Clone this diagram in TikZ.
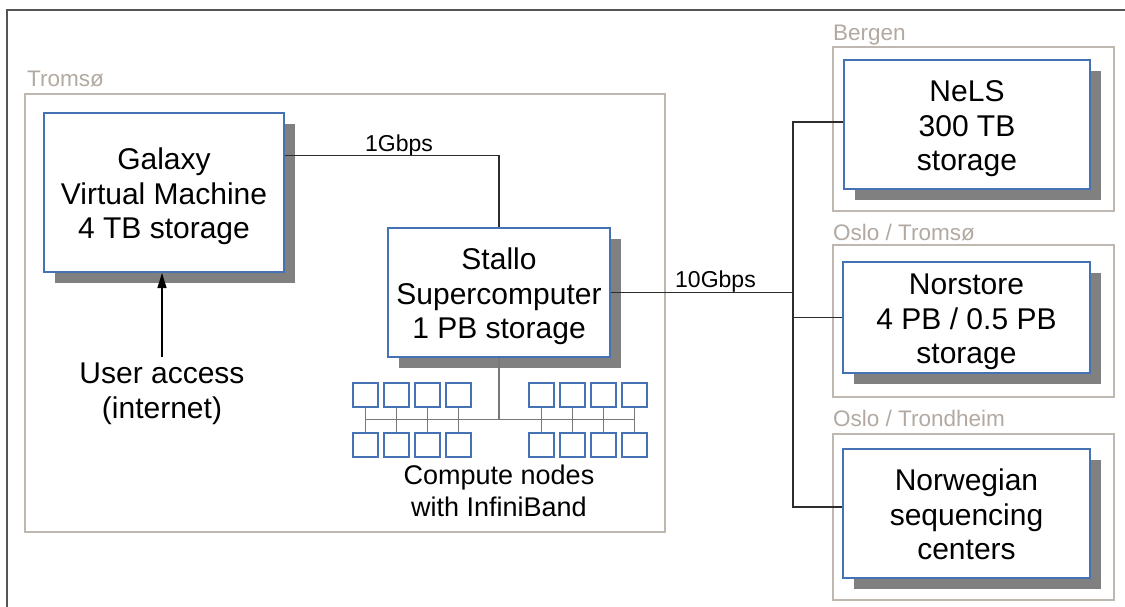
\documentclass[tikz,border=0pt]{standalone}
\usepackage{fontspec}
\setmainfont{Liberation Sans}
\usetikzlibrary{shadows,arrows.meta,calc}
\definecolor{boxblue}{RGB}{68,114,180}
\definecolor{shadowgray}{RGB}{128,128,128}
\definecolor{framegray}{RGB}{190,184,177}
\definecolor{labelgray}{RGB}{178,170,162}
\definecolor{linegray}{RGB}{45,45,45}
\definecolor{netgray}{RGB}{120,120,120}
\definecolor{outergray}{RGB}{85,85,85}
\begin{document}
\begin{tikzpicture}[x=1pt,y=-1pt,
  mainbox/.style={draw=boxblue, line width=2pt, fill=white, align=center,
    font=\fontsize{30}{34.5}\selectfont, inner sep=0pt,
    text height=100pt, text depth=8pt,
    drop shadow={shadow xshift=11pt, shadow yshift=-11pt, fill=shadowgray, opacity=1}},
  site/.style={draw=framegray, line width=2.5pt},
  sitelabel/.style={text=labelgray, font=\fontsize{22.5}{26}\selectfont, anchor=base west, inner sep=0pt},
  conn/.style={draw=linegray, line width=1.3pt},
  speed/.style={font=\fontsize{23}{26}\selectfont, anchor=base west, inner sep=0pt},
  cnode/.style={draw=boxblue, line width=2pt, fill=white, minimum width=25pt, minimum height=24pt, inner sep=0pt},
  net/.style={draw=netgray, line width=1.2pt},
  plain/.style={align=center, font=\fontsize{30}{34.5}\selectfont, inner sep=0pt},
]
\useasboundingbox (0,0) rectangle (1125,606);
\fill[white] (0,0) rectangle (1125,606);
% outer frame
\draw[draw=outergray, line width=1.5pt] (7,610) -- (7,10) -- (1130,10);
% site frames
\draw[site] (25,94) rectangle (665,532);
\draw[site] (833,47) rectangle (1114,211);
\draw[site] (833,245) rectangle (1114,397);
\draw[site] (833,434) rectangle (1114,600);
\node[sitelabel] (ltromso) at (27,86) {Tromsø};
\node[sitelabel] (lbergen) at (833,40) {Bergen};
\node[sitelabel] (loslotr) at (833,240) {Oslo / Tromsø};
\node[sitelabel] (loslotd) at (833,426) {Oslo / Trondheim};
% main boxes
\node[mainbox, minimum width=240pt, minimum height=159pt] (galaxy) at (164,192.5) {Galaxy\\Virtual Machine\\4 TB storage};
\node[mainbox, minimum width=222pt, minimum height=129pt] (stallo) at (499,292.5) {Stallo\\Supercomputer\\1 PB storage};
\node[mainbox, minimum width=246pt, minimum height=129pt] (nels) at (967,124.5) {NeLS\\300 TB\\storage};
\node[mainbox, minimum width=247pt, minimum height=111pt] (norstore) at (966.5,317.5) {Norstore\\4 PB / 0.5 PB\\storage};
\node[mainbox, minimum width=247pt, minimum height=129pt] (nsc) at (966.5,513.5) {Norwegian\\sequencing\\centers};
% user access
\node[plain] (user) at (162,394) {User access\\(internet)};
\draw[draw=black, line width=1.3pt, -{Triangle[length=15pt,width=9pt]}] ([yshift=6pt]user.north) -- (user.north |- galaxy.south);
% compute nodes
\foreach \x [count=\k] in {365.5,396.5,427.5,458.5,541.5,572.5,603.5,634.5} {
  \node[cnode] (t\k) at (\x,395) {};
  \node[cnode] (b\k) at (\x,444.5) {};
  \draw[net] (t\k) -- (b\k);
}
\coordinate (busl) at ($(t1)!0.5!(b1)$);
\coordinate (busr) at ($(t8)!0.5!(b8)$);
\draw[net] (busl) -- (busr);
\draw[net] (stallo.south) -- (stallo.south |- busl);
\node[plain, font=\fontsize{27}{32}\selectfont] (ctext) at (499,491) {Compute nodes\\with InfiniBand};
% links
\node[speed] (s1) at (365,151) {1Gbps};
\node[speed] (s10) at (675,287) {10Gbps};
\draw[conn] ($(galaxy.north east)!0.27!(galaxy.south east)$) -| (stallo.north);
\coordinate (hub) at (793,292.5);
\draw[conn] (stallo.east) -- (hub);
\draw[conn] ($(nels.north west)!0.48!(nels.south west)$) -| (hub) |- ($(nsc.north west)!0.45!(nsc.south west)$);
\draw[conn] (hub |- norstore.west) -- (norstore.west);
\end{tikzpicture}
\end{document}
